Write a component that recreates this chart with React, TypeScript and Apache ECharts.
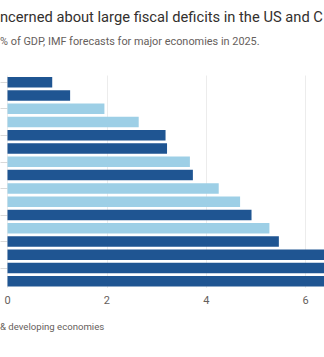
import React, { useEffect, useRef } from "react";
import * as echarts from "echarts";

const categories = [
  "Economy A", "Economy B", "Economy C", "Economy D", "Economy E", "Economy F",
  "Economy G", "Economy H", "Economy I", "Economy J", "Economy K", "Economy L",
  "Economy M", "Economy N", "Economy O", "Economy P",
];
const deficits = [0.9, 1.26, 1.95, 2.64, 3.18, 3.21, 3.67, 3.73, 4.25, 4.68, 4.91, 5.27, 5.46, 6.6, 7.1, 7.5];
const groups = ["d", "d", "l", "l", "d", "d", "l", "d", "l", "l", "d", "l", "d", "d", "d", "d"];
const xTicks = [0, 2, 4, 6];

const DARK = "#1f5592";
const LIGHT = "#9dcfe6";
const FONT = "Roboto, sans-serif";

export default function App() {
  const ref = useRef<HTMLDivElement>(null);
  useEffect(() => {
    if (!ref.current) return;
    const chart = echarts.init(ref.current, null, { renderer: "svg" });
    const unit = 49.7;
    chart.setOption({
      animation: false,
      backgroundColor: "#ffffff",
      textStyle: { fontFamily: FONT },
      grid: { left: 7.5, top: 75.5, width: unit * 8, height: 212.5, containLabel: false },
      xAxis: {
        type: "value",
        min: 0,
        max: 8,
        interval: 2,
        axisLine: { show: false },
        axisTick: { show: false },
        splitLine: { show: true, lineStyle: { color: "#ececec", width: 1 } },
        axisLabel: {
          color: "#66605c",
          fontSize: 11,
          margin: 7,
          fontFamily: FONT,
          formatter: (v: number) => (xTicks.includes(v) ? String(v) : ""),
        },
      },
      yAxis: {
        type: "category",
        inverse: true,
        data: categories,
        axisLine: { show: false },
        axisTick: { show: true, alignWithLabel: true, length: 7, lineStyle: { color: "#d9d9d9" } },
        axisLabel: { show: false },
      },
      series: [
        {
          type: "bar",
          barCategoryGap: "21%",
          data: deficits.map((v, i) => ({
            value: v,
            itemStyle: { color: groups[i] === "d" ? DARK : LIGHT },
          })),
        },
      ],
      graphic: [
        {
          type: "text",
          left: 0,
          top: 9.5,
          style: {
            text: "ncerned about large fiscal deficits in the US and C",
            fill: "#33302e",
            fontSize: 14.7,
            fontFamily: FONT,
          },
        },
        {
          type: "text",
          left: 0,
          top: 35.5,
          style: {
            text: "% of GDP, IMF forecasts for major economies in 2025.",
            fill: "#66605c",
            fontSize: 10.9,
            fontFamily: FONT,
          },
        },
        {
          type: "text",
          left: 0,
          top: 321,
          style: {
            text: "& developing economies",
            fill: "#66605c",
            fontSize: 9.6,
            fontFamily: FONT,
          },
        },
      ],
    });
    return () => chart.dispose();
  }, []);
  return (
    <div style={{ position: "fixed", left: 0, top: 0, width: 324, height: 357, overflow: "hidden", background: "#fff" }}>
      <div ref={ref} style={{ width: 420, height: 357 }} />
    </div>
  );
}
